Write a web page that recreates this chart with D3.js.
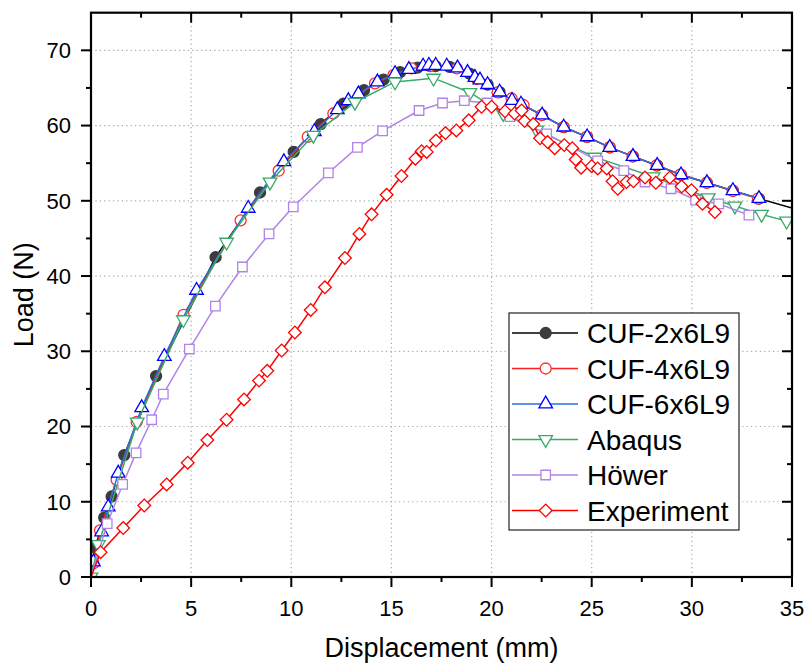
<!DOCTYPE html>
<html>
<head>
<meta charset="utf-8">
<script src="https://cdn.jsdelivr.net/npm/d3@7"></script>
<style>
  body { margin: 0; background: #fff; }
  svg text { font-family: "Liberation Sans", Arial, sans-serif; fill: #000; }
</style>
</head>
<body>
<div id="chart"></div>
<script>
// Load vs displacement — CUF models, Abaqus, Höwer and experiment.

const xMajorTicks = [0, 5, 10, 15, 20, 25, 30, 35];
const xMinorTicks = [2.5, 7.5, 12.5, 17.5, 22.5, 27.5, 32.5];
const yMajorTicks = [0, 10, 20, 30, 40, 50, 60, 70];
const yMinorTicks = [5, 15, 25, 35, 45, 55, 65];
const xGridTicks = [5, 10, 15, 20, 25, 30];
const yGridTicks = [10, 20, 30, 40, 50, 60, 70];

const seriesNames = ["CUF-2x6L9", "CUF-4x6L9", "CUF-6x6L9", "Abaqus", "Höwer", "Experiment"];

const cuf2 = [
    [0, 0], [0.2, 3.9], [0.66, 7.9], [1.03, 10.7], [1.66, 16.2], [3.25, 26.7],
    [6.22, 42.5], [8.44, 51.1], [10.12, 56.5], [11.47, 60.2], [12.6, 62.9],
    [13.63, 64.7], [14.6, 66.1], [15.43, 67.1], [16.3, 67.7], [17.2, 67.9],
    [17.9, 67.8], [18.9, 66.9], [19.8, 65.45], [20.4, 64.45], [21.47, 62.85],
    [22.52, 61.4], [23.6, 59.8], [24.77, 58.5], [25.9, 57.1], [27.06, 55.9],
    [28.27, 54.7], [29.46, 53.45], [30.75, 52.4], [32.05, 51.35], [33.35, 50.3],
    [35, 49.05],
];

const cuf4 = [
    [0, 0], [0.12, 1.8], [0.45, 6.2], [1.28, 12.9], [2.28, 20.6], [4.62, 34.85],
    [7.47, 47.4], [9.37, 54.0], [10.82, 58.5], [12.1, 61.6], [14.18, 65.6],
    [15.1, 66.7], [16.0, 67.6], [16.92, 67.9], [18.26, 67.6], [19.26, 66.2],
    [20.3, 64.4], [21.0, 63.6], [21.6, 62.7], [22.5, 61.4], [23.6, 59.8],
    [24.75, 58.5], [25.9, 57.1], [27.04, 55.9], [28.24, 54.7], [29.44, 53.5],
    [30.74, 52.4], [32.04, 51.3], [33.3, 50.3],
];

const cuf6 = [
    [0, 0], [0.12, 2.0], [0.53, 6.0], [0.86, 9.3], [1.36, 13.8], [2.53, 22.5],
    [3.66, 29.3], [5.27, 38.1], [7.85, 49.0], [9.63, 55.2], [11.15, 59.2],
    [12.3, 62.1], [12.85, 63.3], [13.35, 64.2], [14.3, 65.8], [15.18, 66.9],
    [15.87, 67.45], [16.58, 67.9], [16.87, 68.0], [17.21, 68.0], [17.76, 67.9],
    [18.3, 67.65], [18.8, 67.05], [19.17, 66.4], [19.42, 66.05], [19.8, 65.45],
    [20.4, 64.45], [21.02, 63.35], [21.47, 62.85], [22.52, 61.4], [23.6, 59.8],
    [24.77, 58.5], [25.9, 57.1], [27.06, 55.9], [28.27, 54.7], [29.46, 53.45],
    [30.75, 52.4], [32.05, 51.35], [33.35, 50.3],
];

const abaqus = [
    [0, 0], [0.37, 4.3], [2.31, 20.6], [4.61, 34.2], [6.77, 44.5], [8.94, 52.5],
    [11.1, 58.7], [13.18, 63.1], [15.18, 65.8], [17.1, 66.3], [18.92, 64.4],
    [20.58, 61.6], [22.25, 59.4], [25.16, 55.8], [28.07, 53.2], [30.82, 50.4],
    [32.15, 49.3], [33.48, 48.2], [34.73, 47.3],
];

const hower = [
    [0, 0], [0.81, 7.1], [1.58, 12.3], [2.25, 16.5], [3.03, 20.9], [3.61, 24.3],
    [4.91, 30.3], [6.21, 36.0], [7.56, 41.2], [8.89, 45.6], [10.1, 49.2],
    [11.85, 53.7], [13.3, 57.1], [14.56, 59.3], [16.38, 62.0], [17.55, 63.0],
    [18.64, 63.3], [19.79, 63.0], [20.92, 61.2], [22.75, 58.9], [25.3, 55.3],
    [26.6, 54.0], [27.66, 52.5], [28.96, 51.6], [30.19, 50.1], [31.34, 49.6],
    [32.85, 48.1],
];

const experiment = [
    [0, 0], [0.48, 3.3], [1.61, 6.5], [2.66, 9.5], [3.78, 12.3], [4.83, 15.2],
    [5.81, 18.2], [6.77, 20.9], [7.64, 23.6], [8.39, 26.1], [8.8, 27.4],
    [9.52, 30.1], [10.18, 32.5], [10.97, 35.5], [11.68, 38.5], [12.68, 42.4],
    [13.4, 45.6], [14.01, 48.2], [14.76, 50.8], [15.5, 53.3], [16.2, 55.6],
    [16.51, 56.6], [16.76, 56.5], [17.22, 58.0], [17.7, 59.0], [18.24, 59.35],
    [18.86, 60.7], [19.5, 62.5], [20.0, 62.5], [20.67, 61.9], [21.15, 61.6],
    [21.5, 62.0], [21.65, 60.6], [22.08, 60.2], [22.42, 58.3], [22.8, 57.8],
    [23.15, 57.0], [23.63, 57.4], [24.03, 57.0], [24.2, 55.5], [24.47, 54.4],
    [25.0, 54.6], [25.3, 54.3], [25.75, 54.3], [26.04, 52.6], [26.3, 51.6],
    [26.74, 52.5], [27.08, 52.6], [27.66, 53.1], [28.2, 52.4], [28.9, 53.1],
    [29.49, 51.9], [29.98, 51.4], [30.53, 49.6], [31.15, 48.5],
];

const WIDTH = 810;
const HEIGHT = 669;
const PLOT = { left: 91, right: 792, top: 12.7, bottom: 577 };

// Marker styles per series; originMarker: whether a symbol sits at (0,0)
const STYLES = [
    { data: cuf2, line: "#000000", stroke: "#3c3c3c", fill: "#3c3c3c", shape: "circle", originMarker: false },
    { data: cuf4, line: "#ff2020", stroke: "#ff2a2a", fill: "#ffffff", shape: "circle", originMarker: false },
    { data: cuf6, line: "#2a6ee0", stroke: "#0000ff", fill: "#ffffff", shape: "up", originMarker: false },
    { data: abaqus, line: "#3aaa6a", stroke: "#3aaa6a", fill: "#ffffff", shape: "down", originMarker: true },
    { data: hower, line: "#b083e6", stroke: "#b083e6", fill: "#ffffff", shape: "square", originMarker: false },
    { data: experiment, line: "#ff0000", stroke: "#ff0000", fill: "#ffffff", shape: "diamond", originMarker: false },
];

const svg = d3.select("#chart").append("svg")
    .attr("width", WIDTH).attr("height", HEIGHT);

const x = d3.scaleLinear().domain([0, 35]).range([PLOT.left, PLOT.right]);
const y = d3.scaleLinear().domain([0, 75]).range([PLOT.bottom, PLOT.top]);

// Grid
const grid = svg.append("g").attr("stroke", "#a8a8a8").attr("stroke-width", 1.2)
    .attr("stroke-dasharray", "1.2,3.2");
grid.selectAll("line.vx").data(xGridTicks).join("line")
    .attr("x1", (d) => x(d)).attr("x2", (d) => x(d))
    .attr("y1", PLOT.top).attr("y2", PLOT.bottom);
grid.selectAll("line.hy").data(yGridTicks).join("line")
    .attr("x1", PLOT.left).attr("x2", PLOT.right)
    .attr("y1", (d) => y(d)).attr("y2", (d) => y(d));

// Shapes
function markerPath(shape) {
    switch (shape) {
        case "circle": return d3.symbol(d3.symbolCircle, 95)();
        case "up": return d3.symbol(d3.symbolTriangle, 80)();
        case "down": return d3.symbol(d3.symbolTriangle, 80)();
        case "square": return d3.symbol(d3.symbolSquare, 90)();
        case "diamond": return d3.symbol(d3.symbolSquare, 80)();
    }
}
function markerRotate(shape) {
    if (shape === "down") return 180;
    if (shape === "diamond") return 45;
    return 0;
}

const clipId = "plot-clip";
svg.append("defs").append("clipPath").attr("id", clipId)
    .append("rect")
    .attr("x", PLOT.left).attr("y", PLOT.top)
    .attr("width", PLOT.right - PLOT.left).attr("height", PLOT.bottom - PLOT.top);

const line = d3.line().x((d) => x(d[0])).y((d) => y(d[1]));

const plotG = svg.append("g").attr("clip-path", `url(#${clipId})`);
for (const s of STYLES) {
    const g = plotG.append("g");
    g.append("path").datum(s.data)
        .attr("d", line)
        .attr("fill", "none")
        .attr("stroke", s.line)
        .attr("stroke-width", 1.5);
    // no marker on the right-hand axis; origin only where the reference has one
    const pts = s.data.filter((d) => d[0] < 35 && (s.originMarker || d[0] > 0));
    g.selectAll("path.m").data(pts).join("path")
        .attr("class", "m")
        .attr("d", markerPath(s.shape))
        .attr("transform", (d) => `translate(${x(d[0])},${y(d[1])}) rotate(${markerRotate(s.shape)})`)
        .attr("fill", s.fill)
        .attr("stroke", s.stroke)
        .attr("stroke-width", 1.3);
}

// Frame and ticks
const axisG = svg.append("g").attr("stroke", "#000");
axisG.append("rect")
    .attr("x", PLOT.left).attr("y", PLOT.top)
    .attr("width", PLOT.right - PLOT.left).attr("height", PLOT.bottom - PLOT.top)
    .attr("fill", "none").attr("stroke-width", 2.2);

function xTicks(vals, len) {
    axisG.selectAll(null).data(vals).join("line")
        .attr("x1", (d) => x(d)).attr("x2", (d) => x(d))
        .attr("y1", PLOT.bottom).attr("y2", PLOT.bottom + len)
        .attr("stroke-width", 2);
    axisG.selectAll(null).data(vals).join("line")
        .attr("x1", (d) => x(d)).attr("x2", (d) => x(d))
        .attr("y1", PLOT.top).attr("y2", PLOT.top + len)
        .attr("stroke-width", 2);
}
function yTicks(vals, len) {
    axisG.selectAll(null).data(vals).join("line")
        .attr("x1", PLOT.left - len).attr("x2", PLOT.left)
        .attr("y1", (d) => y(d)).attr("y2", (d) => y(d))
        .attr("stroke-width", 2);
    axisG.selectAll(null).data(vals).join("line")
        .attr("x1", PLOT.right - len).attr("x2", PLOT.right)
        .attr("y1", (d) => y(d)).attr("y2", (d) => y(d))
        .attr("stroke-width", 2);
}
xTicks(xMajorTicks, 10);
xTicks(xMinorTicks, 5);
yTicks(yMajorTicks, 10);
yTicks(yMinorTicks, 5);

// Tick labels
svg.append("g").selectAll("text").data(xMajorTicks).join("text")
    .attr("x", (d) => x(d)).attr("y", 616)
    .attr("text-anchor", "middle")
    .attr("font-size", 22)
    .text((d) => d);
svg.append("g").selectAll("text").data(yMajorTicks).join("text")
    .attr("x", 71).attr("y", (d) => y(d))
    .attr("dy", "0.36em")
    .attr("text-anchor", "end")
    .attr("font-size", 22)
    .text((d) => d);

// Axis titles
svg.append("text")
    .attr("x", (PLOT.left + PLOT.right) / 2).attr("y", 657)
    .attr("text-anchor", "middle")
    .attr("font-size", 27)
    .text("Displacement (mm)");
svg.append("text")
    .attr("transform", `translate(33,${(PLOT.top + PLOT.bottom) / 2}) rotate(-90)`)
    .attr("text-anchor", "middle")
    .attr("font-size", 27)
    .text("Load (N)");

// Legend
const legend = svg.append("g");
legend.append("rect")
    .attr("x", 509).attr("y", 313).attr("width", 230).attr("height", 217)
    .attr("fill", "#fff").attr("stroke", "#222").attr("stroke-width", 1.2);
STYLES.forEach((s, i) => {
    const ly = 333 + i * 35.5;
    legend.append("line")
        .attr("x1", 512).attr("x2", 578).attr("y1", ly).attr("y2", ly)
        .attr("stroke", s.line).attr("stroke-width", 1.5);
    legend.append("path")
        .attr("d", markerPath(s.shape))
        .attr("transform", `translate(545.7,${ly}) rotate(${markerRotate(s.shape)})`)
        .attr("fill", s.fill).attr("stroke", s.stroke).attr("stroke-width", 1.3);
    legend.append("text")
        .attr("x", 587).attr("y", ly + 10)
        .attr("font-size", 28)
        .text(seriesNames[i]);
});
</script>
</body>
</html>
